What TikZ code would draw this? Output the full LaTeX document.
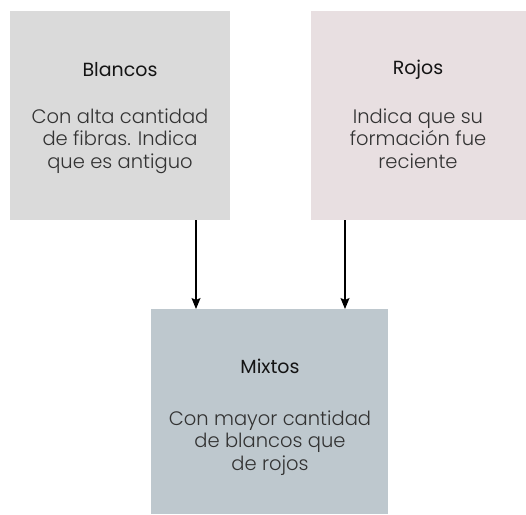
\documentclass[tikz,border=0pt]{standalone}
\usepackage{fontspec}
\setmainfont{Poppins}
\newfontfamily\lightf{Poppins Light}
\usetikzlibrary{arrows.meta}
\definecolor{cblanc}{HTML}{DADADA}
\definecolor{crojo}{HTML}{E8DFE1}
\definecolor{cmixto}{HTML}{BEC8CE}
\definecolor{ctitle}{HTML}{141414}
\definecolor{cbody}{HTML}{333333}
\begin{document}
\begin{tikzpicture}[x=1pt,y=-1pt,
  box/.style={rectangle,inner sep=0pt,anchor=north west},
  ttl/.style={anchor=base,inner sep=0pt,text=ctitle,font=\fontsize{19}{22}\selectfont},
  bdy/.style={anchor=base,inner sep=0pt,align=center,text=cbody,font=\lightf\fontsize{19.5}{22.5}\selectfont},
  arr/.style={-{Stealth[length=11pt,width=9pt,inset=2pt]},line width=1.2pt,black}]
\useasboundingbox (0,0) rectangle (526,514);
\node[box,fill=cblanc,minimum width=220pt,minimum height=209pt] (b1) at (10,11) {};
\node[box,fill=crojo,minimum width=215pt,minimum height=209pt] (b2) at (311,11) {};
\node[box,fill=cmixto,minimum width=237pt,minimum height=205pt] (b3) at (151,309) {};
\node[ttl] (t1) at (120,76) {Blancos};
\node[bdy] (d1) at (120,168) {Con alta cantidad\\de fibras. Indica\\que es antiguo};
\node[ttl] (t2) at (418,74) {Rojos};
\node[bdy] (d2) at (418,168) {Indica que su\\formación fue\\reciente};
\node[ttl] (t3) at (270,373) {Mixtos};
\node[bdy] (d3) at (270,470) {Con mayor cantidad\\de blancos que\\de rojos};
\coordinate (c1) at (196,0);
\coordinate (c2) at (345,0);
\draw[arr] (b1.south -| c1) -- (b3.north -| c1);
\draw[arr] (b2.south -| c2) -- (b3.north -| c2);
\end{tikzpicture}
\end{document}
